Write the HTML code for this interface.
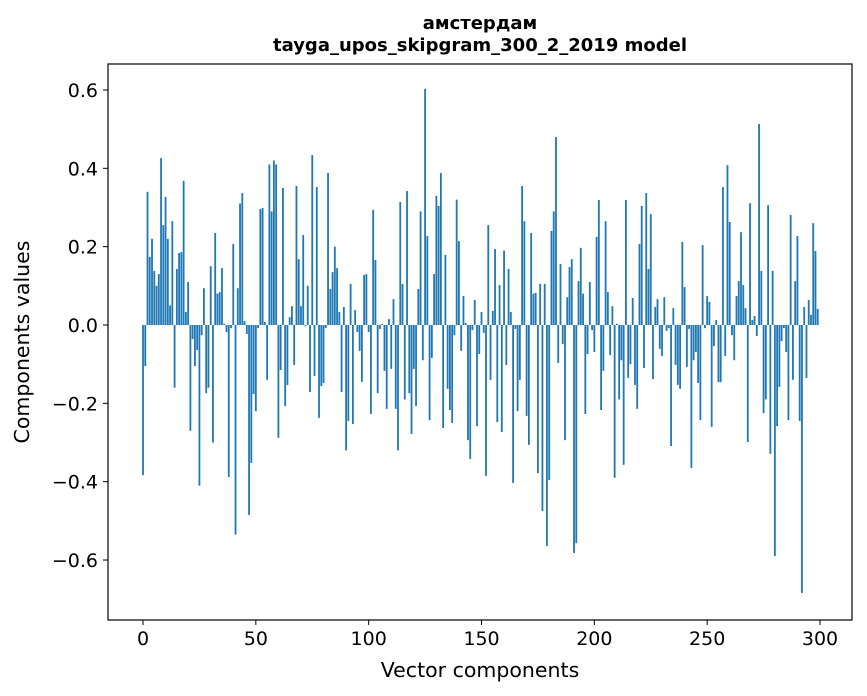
<!DOCTYPE html>
<html><head><meta charset="utf-8"><style>
html,body{margin:0;padding:0;background:#fff;}
svg{display:block;font-family:"DejaVu Sans","Liberation Sans","Noto Sans CJK SC",sans-serif;}
</style></head><body>
<svg id="chart" width="867" height="696">
<text x="480" y="29" text-anchor="middle" font-size="18" font-weight="bold">амстердам</text>
<text x="480" y="51" text-anchor="middle" font-size="18" font-weight="bold">tayga_upos_skipgram_300_2_2019 model</text>
<g id="bars"></g>
<rect x="108" y="64" width="744" height="556" fill="none" stroke="#000" stroke-width="1.2"/>
<g id="xticks"></g>
<g id="yticks"></g>
<text x="480" y="677" text-anchor="middle" font-size="20.5">Vector components</text>
<text transform="translate(29,342) rotate(-90)" text-anchor="middle" font-size="20.5">Components values</text>
</svg>
<script>
const values = [
-0.383,-0.105,0.34,0.174,0.22,0.138,0.10,0.13,0.426,0.255,
0.327,0.22,0.05,0.265,-0.16,0.143,0.184,0.186,0.368,0.033,
0.11,-0.27,-0.036,-0.105,-0.064,-0.41,-0.026,0.094,-0.174,-0.16,
0.15,-0.30,0.235,0.08,0.084,0.145,0.003,-0.018,-0.388,-0.008,
0.207,-0.535,0.094,0.31,0.337,0.01,-0.023,-0.485,-0.352,-0.176,
-0.22,-0.008,0.296,0.299,0.008,-0.14,0.41,0.29,0.42,0.41,
-0.288,-0.115,0.35,-0.207,-0.153,0.02,0.048,-0.102,0.355,0.168,
0.048,0.23,-0.003,0.1,-0.171,0.434,-0.13,0.352,-0.237,-0.156,
-0.148,-0.008,0.388,0.092,0.135,0.2,0.145,0.033,-0.171,0.046,
-0.32,-0.245,0.105,-0.253,0.038,-0.018,-0.066,-0.145,0.128,0.13,
-0.018,-0.227,0.294,0.166,-0.174,-0.01,0.003,-0.117,-0.214,0.015,
-0.112,0.066,-0.214,-0.32,0.314,0.105,-0.19,0.342,-0.174,-0.278,
-0.112,-0.207,0.092,0.29,-0.09,0.603,0.227,-0.243,-0.084,0.13,
0.33,0.304,0.388,-0.263,0.179,-0.163,-0.217,-0.25,-0.026,0.32,
0.214,-0.066,0.074,0.005,-0.294,-0.342,-0.013,0.064,-0.258,-0.074,
0.033,-0.02,-0.385,0.255,-0.14,0.036,0.194,-0.248,0.102,-0.273,
0.19,-0.102,0.143,0.033,-0.403,-0.01,-0.22,-0.14,0.355,0.265,
-0.232,-0.306,0.235,0.08,0.082,-0.378,0.105,-0.475,0.105,-0.564,
-0.396,0.24,0.29,0.48,-0.097,0.156,-0.049,-0.294,0.071,0.148,
0.168,-0.582,-0.557,0.112,0.197,0.08,-0.227,-0.074,0.11,-0.013,
-0.069,0.225,0.319,-0.217,-0.117,0.265,0.084,-0.077,0.048,-0.39,
0.003,-0.19,-0.09,-0.357,0.319,-0.135,-0.1,0.069,-0.153,-0.214,
0.207,0.304,-0.11,0.337,0.143,0.283,-0.138,0.046,0.066,-0.061,
-0.079,0.071,-0.015,-0.008,-0.309,0.043,-0.102,-0.153,-0.163,0.212,
0.097,-0.107,-0.01,-0.365,-0.09,-0.069,-0.148,-0.243,0.204,-0.008,
0.074,0.059,-0.26,-0.054,0.013,-0.146,-0.146,0.352,-0.079,0.408,
0.263,-0.026,-0.09,0.074,0.112,0.237,0.102,0.043,-0.299,0.311,
0.013,0.023,-0.028,0.513,0.138,-0.225,-0.19,0.306,-0.329,0.138,
-0.59,-0.258,-0.158,-0.041,-0.008,-0.069,-0.243,0.281,-0.14,0.112,
0.227,-0.245,-0.684,0.046,-0.135,0.064,0.026,0.26,0.189,0.041
];
const xTickValues = [0,50,100,150,200,250,300];
const xTickLabels = ["0","50","100","150","200","250","300"];
const yTickValues = [-0.6,-0.4,-0.2,0.0,0.2,0.4,0.6];
const yTickLabels = ["\u22120.6","\u22120.4","\u22120.2","0.0","0.2","0.4","0.6"];

const NS = "http://www.w3.org/2000/svg";
function xScale(v){ return 143 + v * (677/300); }
function yScale(v){ return 325 - v * 391.7; }
const bw = 0.8 * (677/300);
const barsG = document.getElementById('bars');
values.forEach((v,i)=>{
  const r = document.createElementNS(NS,'rect');
  const y0 = yScale(0), y1 = yScale(v);
  r.setAttribute('x', xScale(i) - bw/2);
  r.setAttribute('y', Math.min(y0,y1));
  r.setAttribute('width', bw);
  r.setAttribute('height', Math.max(Math.abs(y1-y0),0.01));
  r.setAttribute('fill', '#1f77b4');
  
  
  barsG.appendChild(r);
});
const xg = document.getElementById('xticks');
xTickValues.forEach((t,i)=>{
  const x = xScale(t);
  const l = document.createElementNS(NS,'line');
  l.setAttribute('x1',x); l.setAttribute('x2',x); l.setAttribute('y1',620); l.setAttribute('y2',625);
  l.setAttribute('stroke','#000');
  
  
  xg.appendChild(l);
  const tx = document.createElementNS(NS,'text');
  tx.setAttribute('x',x); tx.setAttribute('y',645); tx.setAttribute('text-anchor','middle'); tx.setAttribute('font-size','19');
  tx.textContent = xTickLabels[i];
  
  
  xg.appendChild(tx);
});
const yg = document.getElementById('yticks');
yTickValues.forEach((t,i)=>{
  const y = yScale(t);
  const l = document.createElementNS(NS,'line');
  l.setAttribute('x1',103); l.setAttribute('x2',108); l.setAttribute('y1',y); l.setAttribute('y2',y);
  l.setAttribute('stroke','#000');
  
  
  yg.appendChild(l);
  const tx = document.createElementNS(NS,'text');
  tx.setAttribute('x',98); tx.setAttribute('y',y+7); tx.setAttribute('text-anchor','end'); tx.setAttribute('font-size','19');
  tx.textContent = yTickLabels[i];
  
  
  yg.appendChild(tx);
});
</script>
</body></html>
